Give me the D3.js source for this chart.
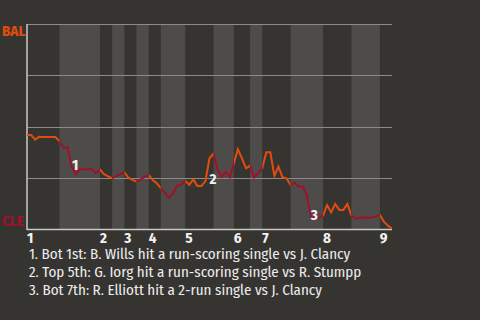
<!DOCTYPE html>
<html>
<head>
<meta charset="utf-8">
<script src="https://cdn.jsdelivr.net/npm/d3@7"></script>
<style>
  html, body { margin: 0; padding: 0; background: #363431; }
  svg { display: block; font-family: "Fira Sans Condensed", "Liberation Sans Narrow", "Roboto Condensed", "DejaVu Sans Condensed", sans-serif; }
</style>
</head>
<body>
<div id="chart"></div>
<script>
// BAL win probability after each play (0 = CLE wins, 1 = BAL wins)
var winProb = [
  0.459, 0.459, 0.436, 0.450, 0.449, 0.449, 0.449, 0.449, 0.429, 0.397,
  0.397, 0.304, 0.267, 0.291, 0.291, 0.291, 0.291, 0.272, 0.291, 0.267,
  0.257, 0.247, 0.259, 0.268, 0.277, 0.250, 0.240, 0.231, 0.241, 0.254,
  0.263, 0.239, 0.223, 0.199, 0.176, 0.153, 0.174, 0.210, 0.215, 0.236,
  0.215, 0.242, 0.210, 0.210, 0.234, 0.345, 0.369, 0.288, 0.255, 0.280,
  0.252, 0.320, 0.389, 0.345, 0.296, 0.309, 0.252, 0.273, 0.296, 0.374,
  0.374, 0.259, 0.304, 0.252, 0.247, 0.215, 0.226, 0.206, 0.206, 0.166,
  0.060, 0.055, 0.055, 0.065, 0.117, 0.081, 0.122, 0.093, 0.093, 0.122,
  0.065, 0.052, 0.052, 0.057, 0.055, 0.056, 0.061, 0.068, 0.036, 0.016,
  0.003
];
// play index where each half inning starts (top 1, bot 1, top 2, ...)
var halfStarts = [0, 8, 18, 21, 24, 27, 30, 33, 39, 46, 51, 55, 58, 65, 73, 80, 87];
var innings = ["1", "2", "3", "4", "5", "6", "7", "8", "9"];
var teams = ["BAL", "CLE"];
var gridValues = [0.25, 0.5, 0.75, 1];
// key plays: index of the play, and description
var keyPlays = [11, 45, 70];
var keyTexts = [
  "1. Bot 1st: B. Wills hit a run-scoring single vs J. Clancy",
  "2. Top 5th: G. Iorg hit a run-scoring single vs R. Stumpp",
  "3. Bot 7th: R. Elliott hit a 2-run single vs J. Clancy"
];

var width = 480, height = 320;
var margin = {top: 24, right: 88, bottom: 91, left: 27};
var lastPlay = winProb.length - 1;

var x = d3.scaleLinear().domain([0, lastPlay]).range([margin.left, width - margin.right]);
var y = d3.scaleLinear().domain([0, 1]).range([height - margin.bottom, margin.top]);

var svg = d3.select("#chart").append("svg")
  .attr("width", width)
  .attr("height", height);

svg.append("rect").attr("width", width).attr("height", height).attr("fill", "#363431");

var halves = halfStarts.map(function(s, i){
  return {start: s, end: i + 1 < halfStarts.length ? halfStarts[i + 1] : lastPlay, bottom: i % 2 === 1};
});

// lighter bands for bottom halves
svg.append("g").selectAll("rect")
  .data(halves.filter(function(d){ return d.bottom; }))
  .enter().append("rect")
  .attr("x", function(d){ return x(d.start); })
  .attr("width", function(d){ return x(d.end) - x(d.start); })
  .attr("y", y(1))
  .attr("height", y(0) - y(1))
  .attr("fill", "#4e4c4a");

// grid lines
svg.append("g").selectAll("line")
  .data(gridValues)
  .enter().append("line")
  .attr("x1", x(0)).attr("x2", x(lastPlay))
  .attr("y1", function(d){ return Math.round(y(d)) + 0.5; })
  .attr("y2", function(d){ return Math.round(y(d)) + 0.5; })
  .attr("stroke", "#8c8b89")
  .attr("stroke-width", 1);

// axes lines
svg.append("line")
  .attr("x1", x(0)).attr("x2", x(0))
  .attr("y1", y(1)).attr("y2", y(0) + 1)
  .attr("stroke", "#c8c8c6").attr("stroke-width", 1.5);
svg.append("line")
  .attr("x1", x(0)).attr("x2", x(lastPlay))
  .attr("y1", y(0) + 0.5).attr("y2", y(0) + 0.5)
  .attr("stroke", "#c8c8c6").attr("stroke-width", 1.5);

// clip paths: top halves orange (BAL batting), bottom halves red (CLE batting)
var defs = svg.append("defs");
["top", "bot"].forEach(function(k){
  defs.append("clipPath").attr("id", "clip-" + k)
    .selectAll("rect")
    .data(halves.filter(function(d){ return d.bottom === (k === "bot"); }))
    .enter().append("rect")
    .attr("x", function(d){ return x(d.start); })
    .attr("width", function(d){ return x(d.end) - x(d.start); })
    .attr("y", 0).attr("height", height);
});

var line = d3.line()
  .x(function(d, i){ return x(i); })
  .y(function(d){ return y(d); });

svg.append("path").datum(winProb)
  .attr("d", line)
  .attr("fill", "none")
  .attr("stroke", "#e24c0e")
  .attr("stroke-width", 2)
  .attr("clip-path", "url(#clip-top)");
svg.append("path").datum(winProb)
  .attr("d", line)
  .attr("fill", "none")
  .attr("stroke", "#a30f2b")
  .attr("stroke-width", 2)
  .attr("clip-path", "url(#clip-bot)");

// team labels
svg.append("text").text(teams[0])
  .attr("x", 2).attr("y", y(1) + 12)
  .attr("fill", "#e24c0e").attr("font-weight", "bold").attr("font-size", 15);
svg.append("text").text(teams[1])
  .attr("x", 2).attr("y", y(0) - 3)
  .attr("fill", "#a30f2b").attr("font-weight", "bold").attr("font-size", 15);

// inning labels at the start of each top half
svg.append("g").selectAll("text")
  .data(innings)
  .enter().append("text")
  .attr("x", function(d, i){ return x(halfStarts[i * 2]); })
  .attr("y", y(0) + 14)
  .attr("fill", "#f2f2f2")
  .attr("font-weight", "bold")
  .attr("font-size", 15)
  .text(function(d){ return d; });

// key play markers
svg.append("g").selectAll("text")
  .data(keyPlays)
  .enter().append("text")
  .attr("x", function(d){ return x(d) + 3.5; })
  .attr("y", function(d){ return y(Math.min(winProb[d], winProb[d - 1])) + 3; })
  .attr("text-anchor", "middle")
  .attr("fill", "#f2f2f2")
  .attr("font-weight", "bold")
  .attr("font-size", 15)
  .text(function(d, i){ return i + 1; });

// key play descriptions
svg.append("g").selectAll("text")
  .data(keyTexts)
  .enter().append("text")
  .attr("x", 29)
  .attr("y", function(d, i){ return 259 + i * 18; })
  .attr("fill", "#ececec")
  .attr("font-size", 15)
  .text(function(d){ return d; });
</script>
</body>
</html>
